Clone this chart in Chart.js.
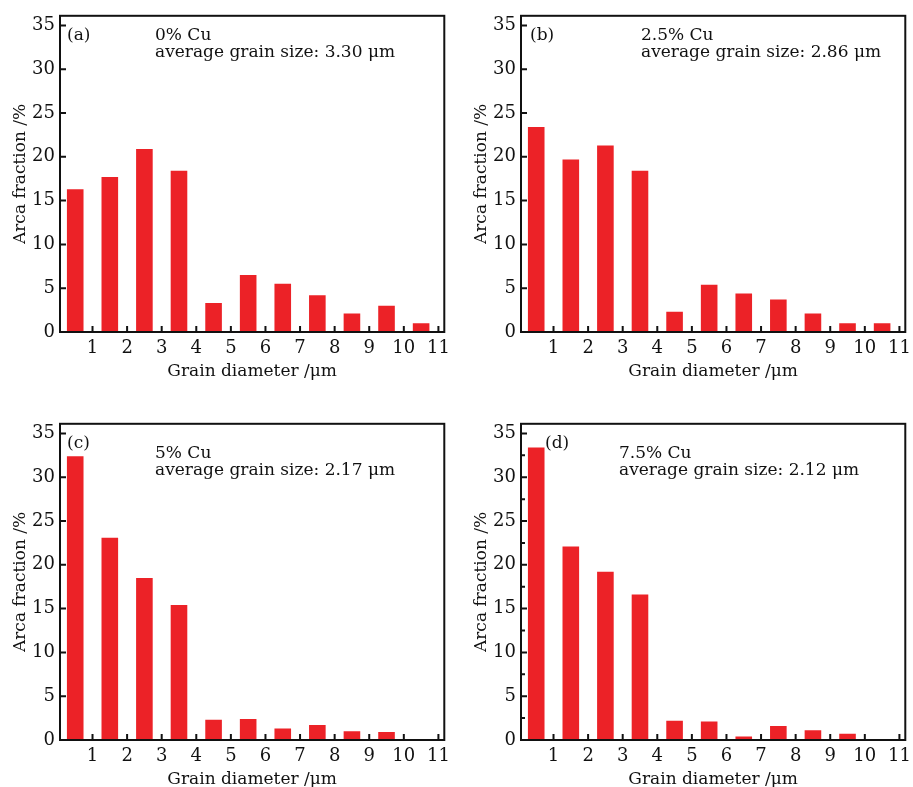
<!DOCTYPE html>
<html lang="en">
<head>
<meta charset="UTF-8" />
<title>Grain diameter distribution</title>
<style>
  body { margin: 0; width: 913px; height: 787px; overflow: hidden; background: #fff; position: relative; }
  .panel { position: absolute; width: 456px; height: 390px; }
</style>
</head>
<body>
<div class="panel" style="left:0;top:0"><canvas id="chartA"></canvas></div>
<div class="panel" style="left:461px;top:0"><canvas id="chartB"></canvas></div>
<div class="panel" style="left:0;top:408px"><canvas id="chartC"></canvas></div>
<div class="panel" style="left:461px;top:408px"><canvas id="chartD"></canvas></div>

<script src="https://cdn.jsdelivr.net/npm/chart.js"></script>
<script>
// bin centres (um) and axis ticks
const binCenters = [0.5, 1.5, 2.5, 3.5, 4.5, 5.5, 6.5, 7.5, 8.5, 9.5, 10.5];
const xTicks = [1, 2, 3, 4, 5, 6, 7, 8, 9, 10, 11];
const yTicks = [0, 5, 10, 15, 20, 25, 30, 35];

// area fraction (%) per bin
const cu0 = [16.3, 17.7, 20.9, 18.4, 3.3, 6.5, 5.5, 4.2, 2.1, 3.0, 1.0];
const cu25 = [23.4, 19.7, 21.3, 18.4, 2.3, 5.4, 4.4, 3.7, 2.1, 1.0, 1.0];
const cu5 = [32.4, 23.1, 18.5, 15.4, 2.3, 2.4, 1.3, 1.7, 1.0, 0.9, 0];
const cu75 = [33.4, 22.1, 19.2, 16.6, 2.2, 2.1, 0.4, 1.6, 1.1, 0.7, 0];

const panelLetters = ["(a)", "(b)", "(c)", "(d)"];
const cuContents = ["0% Cu", "2.5% Cu", "5% Cu", "7.5% Cu"];
const avgSizes = ["3.30", "2.86", "2.17", "2.12"];

const FONT = "'DejaVu Serif', serif";
Chart.defaults.font.family = FONT;
Chart.defaults.color = "#111";

// frame round the plot, inward ticks, and the text inside the plot
const framePlugin = {
  id: "frame",
  afterDatasetsDraw(chart) {
    const { ctx, chartArea: a, scales } = chart;
    const n = chart.options.plugins.frame;
    ctx.save();
    ctx.strokeStyle = "#111";
    ctx.lineWidth = 2;
    ctx.strokeRect(a.left, a.top, a.right - a.left, a.bottom - a.top);
    ctx.beginPath();
    scales.x.ticks.forEach((t) => {
      const px = scales.x.getPixelForValue(t.value);
      ctx.moveTo(px, a.bottom);
      ctx.lineTo(px, a.bottom - 6);
    });
    scales.y.ticks.forEach((t) => {
      const py = scales.y.getPixelForValue(t.value);
      ctx.moveTo(a.left, py);
      ctx.lineTo(a.left + 6, py);
      if (n.minorY && t.value + 2.5 < scales.y.max) {
        const pm = scales.y.getPixelForValue(t.value + 2.5);
        ctx.moveTo(a.left, pm);
        ctx.lineTo(a.left + 4, pm);
      }
    });
    ctx.stroke();

    ctx.fillStyle = "#111";
    ctx.font = "17px " + FONT;
    ctx.textBaseline = "middle";
    ctx.fillText(n.letter, a.left + n.letterX, a.top + n.letterY);
    ctx.fillText(n.lines[0], a.left + n.textX, a.top + n.textY);
    ctx.fillText(n.lines[1], a.left + n.textX, a.top + n.textY + 17);
    ctx.restore();
  },
};

function makeChart(id, values, idx, pos) {
  return new Chart(document.getElementById(id), {
    type: "bar",
    data: {
      datasets: [
        {
          data: binCenters.map((x, i) => ({ x: x, y: values[i] })),
          backgroundColor: "#ec2227",
          borderWidth: 0,
          barPercentage: 0.48,
          categoryPercentage: 1,
        },
      ],
    },
    options: {
      responsive: true,
      maintainAspectRatio: false,
      animation: false,
      layout: { padding: { top: 6, right: 9, bottom: 0, left: 0 } },
      plugins: {
        legend: { display: false },
        tooltip: { enabled: false },
        frame: {
          letter: panelLetters[idx],
          lines: [cuContents[idx], "average grain size: " + avgSizes[idx] + " \u03bcm"],
          letterX: pos.letterX,
          letterY: pos.letterY,
          textX: pos.textX,
          textY: pos.textY,
          minorY: pos.minorY || false,
        },
      },
      scales: {
        x: {
          type: "linear",
          min: 0.06,
          max: 11.17,
          offset: false,
          grid: { display: false, drawTicks: false },
          border: { display: false },
          afterBuildTicks: (s) => { s.ticks = xTicks.map((v) => ({ value: v })); },
          afterFit: (s) => { s.height = 58; },
          ticks: { font: { size: 18 }, padding: 6, maxRotation: 0, autoSkip: false },
          title: { display: true, text: "Grain diameter /\u03bcm", font: { size: 17 }, padding: { top: 0, bottom: 8 } },
        },
        y: {
          min: 0,
          max: 36.1,
          grid: { display: false, drawTicks: false },
          border: { display: false },
          afterBuildTicks: (s) => { s.ticks = yTicks.map((v) => ({ value: v })); },
          afterFit: (s) => { s.width = 60; },
          ticks: { font: { size: 18 }, padding: 5 },
          title: { display: true, text: "Arca fraction /%", font: { size: 17 }, padding: { top: 10, bottom: 0 } },
        },
      },
    },
    plugins: [framePlugin],
  });
}

makeChart("chartA", cu0, 0, { letterX: 7, letterY: 20, textX: 95, textY: 20 });
makeChart("chartB", cu25, 1, { letterX: 9, letterY: 20, textX: 120, textY: 20 });
makeChart("chartC", cu5, 2, { letterX: 7, letterY: 20, textX: 95, textY: 30 });
makeChart("chartD", cu75, 3, { letterX: 24, letterY: 20, textX: 98, textY: 30, minorY: true });
</script>
</body>
</html>
